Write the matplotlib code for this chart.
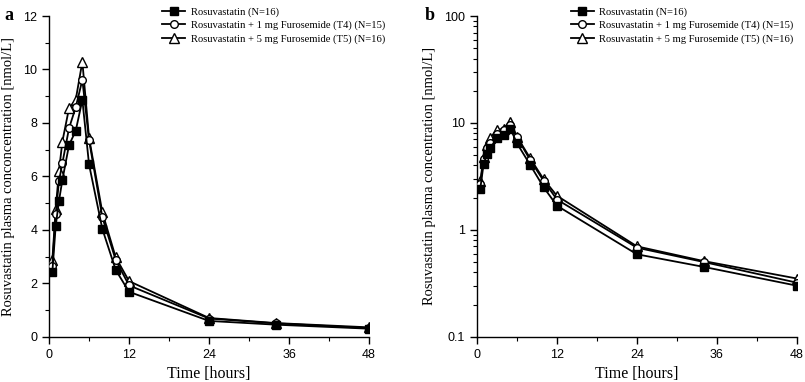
import numpy as np
import matplotlib
matplotlib.use("Agg")
import matplotlib.pyplot as plt
from matplotlib.ticker import MultipleLocator, LogLocator, FixedFormatter, FixedLocator

# temps de prélèvement (heures)
time_h = [0.5, 1, 1.5, 2, 3, 4, 5, 6, 8, 10, 12, 24, 34, 48]

# concentrations moyennes [nmol/L]
rosu = [2.43, 4.14, 5.09, 5.86, 7.17, 7.70, 8.86, 6.45, 4.03, 2.50, 1.68, 0.59, 0.45, 0.30]
rosu_t4 = [2.66, 4.60, 5.83, 6.49, 7.80, 8.58, 9.61, 7.36, 4.47, 2.87, 1.92, 0.68, 0.50, 0.32]
rosu_t5 = [2.87, 4.77, 6.21, 7.30, 8.55, 8.86, 10.29, 7.45, 4.65, 2.97, 2.08, 0.70, 0.51, 0.35]

labels = ["Rosuvastatin (N=16)",
          "Rosuvastatin + 1 mg Furosemide (T4) (N=15)",
          "Rosuvastatin + 5 mg Furosemide (T5) (N=16)"]

serif = "Liberation Serif"
sans = "Liberation Sans"

fig = plt.figure(figsize=(8.05, 3.82), dpi=100)
ax_a = fig.add_axes([0.0609, 0.1186, 0.3975, 0.8395])
ax_b = fig.add_axes([0.5925, 0.1186, 0.3975, 0.8395])


def draw(ax, leg_x):
    ax.plot(time_h, rosu_t5, color="black", lw=1.3, marker="^", ms=6.5,
            mfc="white", mec="black", mew=1.0, zorder=3, label=labels[2])
    ax.plot(time_h, rosu_t4, color="black", lw=1.3, marker="o", ms=5.5,
            mfc="white", mec="black", mew=1.0, zorder=4, label=labels[1])
    ax.plot(time_h, rosu, color="black", lw=1.3, marker="s", ms=5.3,
            mfc="black", mec="black", zorder=5, label=labels[0])
    for s in ["top", "right"]:
        ax.spines[s].set_visible(False)
    ax.spines["left"].set_linewidth(1.0)
    ax.spines["bottom"].set_linewidth(1.0)
    ax.set_xlim(0, 48)
    ax.xaxis.set_major_locator(MultipleLocator(12))
    ax.xaxis.set_minor_locator(MultipleLocator(6))
    ax.tick_params(which="major", direction="out", length=5, width=1.0,
                   labelsize=9)
    ax.tick_params(which="minor", direction="out", length=3, width=0.8)
    ax.set_xlabel("Time [hours]", family=serif, fontsize=11.5, labelpad=4)
    h, l = ax.get_legend_handles_labels()
    ax.legend(h[::-1], l[::-1], loc="upper left", bbox_to_anchor=(leg_x, 1.05),
              frameon=False, prop={"family": serif, "size": 7.6},
              handlelength=2.2, labelspacing=0.35, handletextpad=0.5,
              borderaxespad=0.3)


draw(ax_a, 0.33)
ax_a.set_ylim(0, 12)
ax_a.yaxis.set_major_locator(MultipleLocator(2))
ax_a.yaxis.set_minor_locator(MultipleLocator(1))
ax_a.set_ylabel("Rosuvastatin plasma conconcentration [nmol/L]", family=serif,
                fontsize=10.5, labelpad=6)

ax_b.set_yscale("log")
draw(ax_b, 0.27)
ax_b.set_ylim(0.1, 100)
ax_b.yaxis.set_major_locator(FixedLocator([0.1, 1, 10, 100]))
ax_b.yaxis.set_major_formatter(FixedFormatter(["0.1", "1", "10", "100"]))
ax_b.yaxis.set_minor_locator(LogLocator(base=10, subs=np.arange(2, 10)))
ax_b.yaxis.set_minor_formatter(plt.NullFormatter())
ax_b.set_ylabel("Rosuvastatin plasma concentration [nmol/L]", family=serif,
                fontsize=10.5, labelpad=6)

for ax in (ax_a, ax_b):
    for t in ax.get_xticklabels() + ax.get_yticklabels():
        t.set_fontfamily(sans)

fig.text(0.005, 0.948, "a", family=serif, fontsize=13, fontweight="bold")
fig.text(0.528, 0.948, "b", family=serif, fontsize=13, fontweight="bold")

fig.savefig("out.png", dpi=100)
